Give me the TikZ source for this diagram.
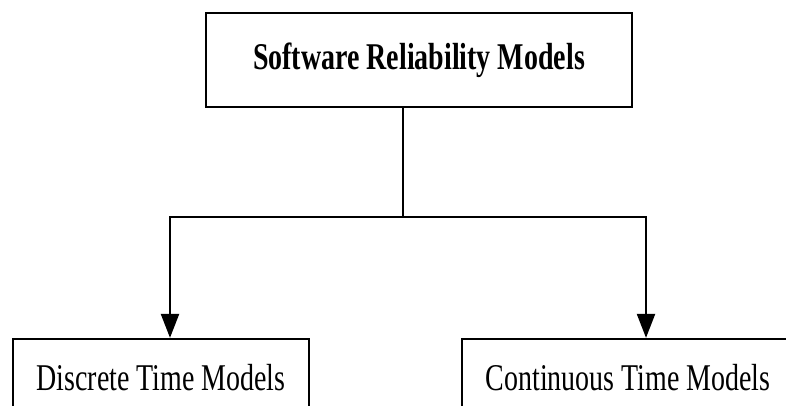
\documentclass[tikz,border=0pt]{standalone}
\usepackage{fontspec}
\setmainfont{Liberation Serif}[FakeStretch=0.74]
\usepackage{tikz}
\usetikzlibrary{arrows.meta, positioning}

\begin{document}
\begin{tikzpicture}[
    x=0.02cm, y=0.02cm,
    box/.style={rectangle, draw, line width=1.3pt, inner sep=0pt, text centered, font=\fontsize{21.5}{26}\selectfont},
    rootbox/.style={box, minimum width=8.52cm, minimum height=1.88cm, font=\fontsize{21.5}{26}\selectfont\bfseries},
    leafbox/.style={box, minimum height=1.54cm},
    link/.style={line width=1.3pt},
    arrow/.style={link, -{Triangle[length=0.48cm, width=0.36cm]}}
]
\useasboundingbox (0,0) rectangle (786,405);

\node[rootbox] (srm) at (419,345) {Software Reliability Models};
\node[leafbox, minimum width=5.92cm] (dtm) at (161,27.5) {Discrete Time Models};
\node[leafbox, minimum width=6.64cm] (ctm) at (628,27.5) {Continuous Time Models};

\coordinate (split) at (403,188);
\coordinate (lbend) at (170,188);
\coordinate (rbend) at (646,188);

\draw[link] (srm.south -| split) -- (split);
\draw[arrow] (split) -- (lbend) -- (lbend |- dtm.north);
\draw[arrow] (split) -- (rbend) -- (rbend |- ctm.north);

\end{tikzpicture}
\end{document}
